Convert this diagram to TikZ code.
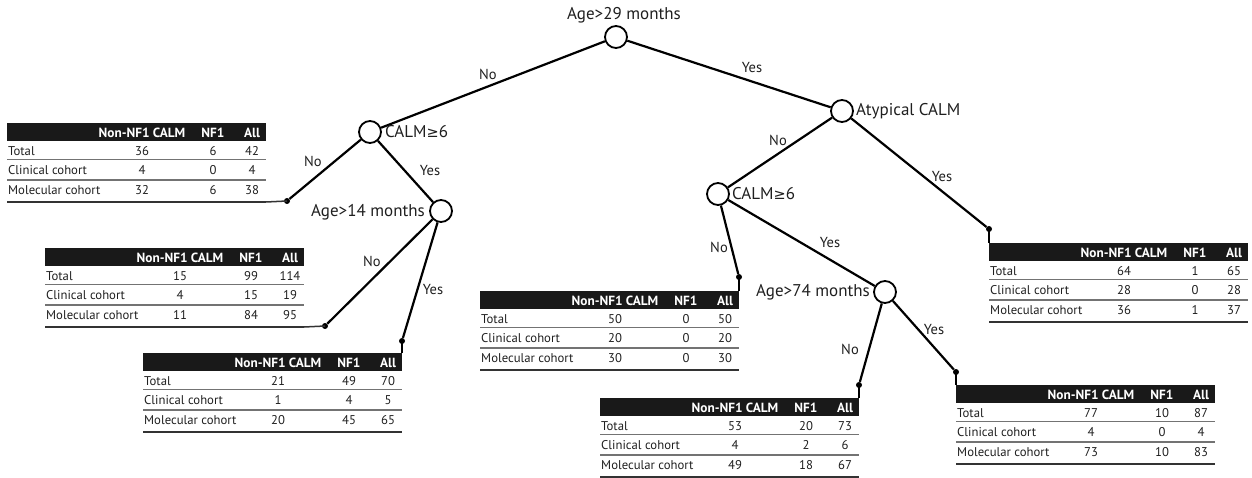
\documentclass[tikz,border=0pt]{standalone}
\usepackage{fontspec}
\setmainfont{PT Sans}
\newfontfamily\symfont{DejaVu Sans}
\begin{document}
\begin{tikzpicture}[x=1pt,y=-1pt,
  txt/.style={text=black!88,inner sep=0pt},
  rowlab/.style={txt,anchor=west,font=\fontsize{12.7}{14}\selectfont},
  num/.style={txt,font=\fontsize{12.7}{14}\selectfont},
  hdrtxt/.style={inner sep=0pt,text=white,font=\bfseries\fontsize{13.3}{15}\selectfont},
  hdrbar/.style={fill=black!90},
  sepline/.style={draw=black!55,line width=1.3pt},
  botline/.style={draw=black!80,line width=1.5pt},
  decision/.style={circle,draw=black,line width=1.8pt,fill=white,minimum size=22pt,inner sep=0pt},
  declab/.style={txt,font=\fontsize{17}{19}\selectfont},
  brlab/.style={txt,font=\fontsize{14.5}{16}\selectfont},
  branch/.style={draw=black,line width=2.2pt},
  leafdot/.style={circle,fill=black,minimum size=6pt,inner sep=0pt},
  stem/.style={draw=black,line width=1.4pt}
]
\useasboundingbox (0,0) rectangle (1252,478);
\def\ctrowi#1#2#3#4/#5/#6\relax{%
  \node[rowlab] (#1-l#2) at (1,#2) {#3};
  \node[num] (#1-a#2) at (135,#2) {#4};
  \node[num] (#1-b#2) at (206,#2) {#5};
  \node[num] (#1-c#2) at (245,#2) {#6};}
\newcommand{\ctrow}[4]{\ctrowi{#1}{#2}{#3}#4\relax}
\newcommand{\ctable}[6]{%
 \begin{scope}[shift={(#2,#3)}]
  \fill[hdrbar] (0,0) rectangle (259,18);
  \node[hdrtxt] (#1-h1) at (135,9.5) {Non-NF1 CALM};
  \node[hdrtxt] (#1-h2) at (206,9.5) {NF1};
  \node[hdrtxt] (#1-h3) at (245,9.5) {All};
  \ctrow{#1}{28}{Total}{#4}
  \ctrow{#1}{47}{Clinical cohort}{#5}
  \ctrow{#1}{67}{Molecular cohort}{#6}
  \draw[sepline] (0,36.5) -- (259,36.5);
  \draw[sepline] (0,57) -- (259,57);
  \coordinate (#1-tl) at (0,0);
  \coordinate (#1-tr) at (259,0);
  \coordinate (#1-bl) at (0,79);
  \coordinate (#1-br) at (259,79);
  \draw[botline] (#1-bl) -- (#1-br);
 \end{scope}}

% decision nodes
\node[decision] (n29) at (616,37) {};
\node[decision] (calmL) at (370,132) {};
\node[decision] (a14) at (441,211) {};
\node[decision] (atyp) at (842,111) {};
\node[decision] (calmR) at (718,194) {};
\node[decision] (a74) at (885,292) {};

% leaf dots
\node[leafdot] (d1) at (287,201) {};
\node[leafdot] (d2) at (325,326) {};
\node[leafdot] (d3) at (402,341) {};
\node[leafdot] (d4) at (739,277) {};
\node[leafdot] (d5) at (859,385) {};
\node[leafdot] (d6) at (956,372) {};
\node[leafdot] (d7) at (989,229) {};

% tables
\ctable{t1}{7}{123}{36/6/42}{4/0/4}{32/6/38}
\ctable{t2}{45}{248}{15/99/114}{4/15/19}{11/84/95}
\ctable{t3}{143}{353}{21/49/70}{1/4/5}{20/45/65}
\ctable{t4}{480}{291}{50/0/50}{20/0/20}{30/0/30}
\ctable{t5}{600}{398}{53/20/73}{4/2/6}{49/18/67}
\ctable{t6}{956}{385}{77/10/87}{4/0/4}{73/10/83}
\ctable{t7}{989}{243}{64/1/65}{28/0/28}{36/1/37}

% branches
\draw[branch] (n29) -- (calmL);
\draw[branch] (n29) -- (atyp);
\draw[branch] (calmL) -- (d1);
\draw[branch] (calmL) -- (a14);
\draw[branch] (a14) -- (d2);
\draw[branch] (a14) -- (d3);
\draw[branch] (atyp) -- (calmR);
\draw[branch] (atyp) -- (d7);
\draw[branch] (calmR) -- (d4);
\draw[branch] (calmR) -- (a74);
\draw[branch] (a74) -- (d5);
\draw[branch] (a74) -- (d6);

% leaf stems
\draw[botline] (t1-br) -- (d1.center);
\draw[botline] (t2-br) -- (d2.center);
\draw[stem] (d3.center) -- (t3-tr);
\draw[stem] (d4.center) -- (t4-tr);
\draw[stem] (d5.center) -- (t5-tr);
\draw[stem] (d6.center) -- (t6-tl);
\draw[stem] (d7.center) -- (t7-tl);

% decision labels
\node[declab] (l29) at (624,15) {Age>29 months};
\node[declab,anchor=west] (lcalmL) at (385,132) {CALM{\symfont\fontsize{14.5}{16}\selectfont ≥}6};
\node[declab,anchor=east] (l14) at (425,212) {Age>14 months};
\node[declab,anchor=west] (latyp) at (856,111) {Atypical CALM};
\node[declab,anchor=west] (lcalmR) at (732,194) {CALM{\symfont\fontsize{14.5}{16}\selectfont ≥}6};
\node[declab,anchor=east] (l74) at (870,292) {Age>74 months};

% branch labels
\node[brlab] (b1) at (488,74) {No};
\node[brlab] (b2) at (752,68) {Yes};
\node[brlab] (b3) at (313,161) {No};
\node[brlab] (b4) at (430,171) {Yes};
\node[brlab] (b5) at (372,261) {No};
\node[brlab] (b6) at (433,290) {Yes};
\node[brlab] (b7) at (778,140) {No};
\node[brlab] (b8) at (942,177) {Yes};
\node[brlab] (b9) at (719,247) {No};
\node[brlab] (b10) at (830,243) {Yes};
\node[brlab] (b11) at (850,349) {No};
\node[brlab] (b12) at (934,330) {Yes};
\end{tikzpicture}
\end{document}
